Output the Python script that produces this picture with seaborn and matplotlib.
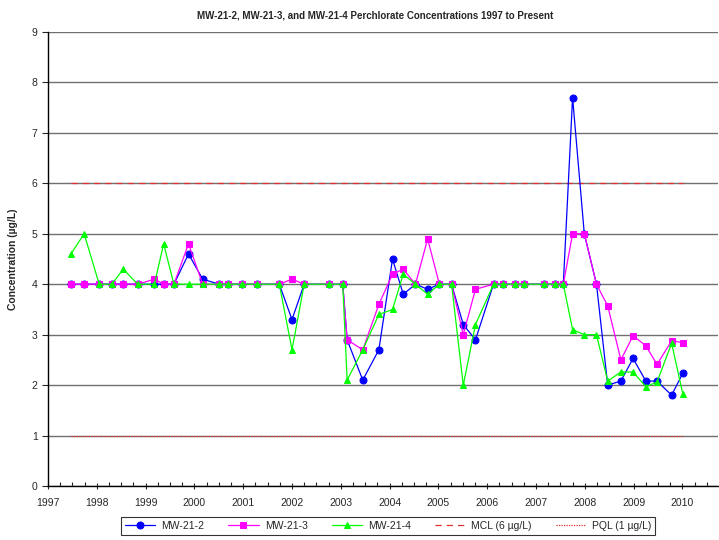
import matplotlib
matplotlib.use('Agg')
import matplotlib.pyplot as plt
import seaborn as sns
import pandas as pd
from matplotlib.ticker import MultipleLocator

# ========= data (decimal years, ug/L) =======================
dates = [1997.47, 1997.74, 1998.05, 1998.31, 1998.54, 1998.84, 1999.18, 1999.37,
         1999.58, 1999.88, 2000.17, 2000.51, 2000.69, 2000.98, 2001.28, 2001.74,
         2002.00, 2002.25, 2002.76, 2003.04, 2003.13, 2003.45, 2003.78, 2004.06,
         2004.28, 2004.53, 2004.78, 2005.02, 2005.27, 2005.51, 2005.76, 2006.13,
         2006.33, 2006.56, 2006.76, 2007.16, 2007.38, 2007.56, 2007.75, 2007.99,
         2008.24, 2008.47, 2008.74, 2008.99, 2009.25, 2009.48, 2009.78, 2010.01]

mw_21_2 = [4, 4, 4, 4, 4, 4, 4, 4,
           4, 4.6, 4.1, 4, 4, 4, 4, 4,
           3.3, 4, 4, 4, 2.9, 2.1, 2.7, 4.5,
           3.8, 4, 3.9, 4, 4, 3.2, 2.9, 4,
           4, 4, 4, 4, 4, 4, 7.7, 5.0,
           4.0, 2.0, 2.08, 2.53, 2.08, 2.08, 1.8, 2.24]

mw_21_3 = [4, 4, 4, 4, 4, 4, 4.1, 4,
           4, 4.8, 4, 4, 4, 4, 4, 4,
           4.1, 4, 4, 4, 2.9, 2.7, 3.6, 4.2,
           4.3, 4, 4.9, 4, 4, 3.0, 3.9, 4,
           4, 4, 4, 4, 4, 4, 5.0, 5.0,
           4.0, 3.57, 2.5, 2.98, 2.78, 2.41, 2.88, 2.84]

mw_21_4 = [4.6, 5.0, 4, 4, 4.3, 4, 4, 4.8,
           4, 4.0, 4, 4, 4, 4, 4, 4,
           2.7, 4, 4, 4, 2.1, 2.7, 3.4, 3.5,
           4.2, 4, 3.8, 4, 4, 2.0, 3.2, 4,
           4, 4, 4, 4, 4, 4, 3.1, 3.0,
           3.0, 2.08, 2.26, 2.26, 1.97, 2.06, 2.83, 1.82]

mcl_value = 6
pql_value = 1
year_ticks = list(range(1997, 2011))

# =========== plot ==============
sns.set_style('white')
plt.rcParams['font.family'] = ['Liberation Sans', 'DejaVu Sans']

fig = plt.figure(figsize=(7.19, 5.40), dpi=100)
ax = fig.add_axes([48/719, 54/540, 670/719, 454/540])

series = [
    ('MW-21-2', mw_21_2, '#0000ff', 'o', 5),
    ('MW-21-3', mw_21_3, '#ff00ff', 's', 4.8),
    ('MW-21-4', mw_21_4, '#00ff00', '^', 5),
]
for name, vals, color, marker, ms in series:
    df = pd.DataFrame({'year': dates, 'conc': vals})
    sns.lineplot(data=df, x='year', y='conc', ax=ax, color=color, marker=marker,
                 markersize=ms, markeredgecolor=color, linewidth=0.9, label=name)

# reference lines span the sampling period
ref = pd.DataFrame({'year': [dates[0], dates[-1]],
                    'mcl': [mcl_value, mcl_value], 'pql': [pql_value, pql_value]})
ax.plot(ref['year'], ref['mcl'], color='#e03030', linestyle=(0, (5, 4)), lw=0.9,
        label='MCL (6 µg/L)', zorder=1)
ax.plot(ref['year'], ref['pql'], color='#e03030', linestyle=(0, (1, 1)), lw=0.9,
        label='PQL (1 µg/L)', zorder=1)

ax.set_xlim(1997, 2010.73)
ax.set_ylim(0, 9)
ax.set_xticks(year_ticks)
ax.set_xticklabels([str(y) for y in year_ticks])
ax.xaxis.set_minor_locator(MultipleLocator(0.25))
ax.yaxis.set_major_locator(MultipleLocator(1))
ax.grid(axis='y', color='#707070', lw=1, zorder=0)
ax.set_axisbelow(True)
for s in ['top', 'right']:
    ax.spines[s].set_visible(False)
for s in ['left', 'bottom']:
    ax.spines[s].set_color('black')
    ax.spines[s].set_linewidth(1)
ax.tick_params(axis='x', which='major', direction='inout', length=5, width=0.8,
               labelsize=7.5, pad=6, bottom=True)
ax.tick_params(axis='x', which='minor', direction='in', length=3, width=0.8, bottom=True)
ax.tick_params(axis='y', which='major', direction='out', length=4, width=0.8,
               labelsize=7.5, left=True)
ax.set_xlabel('')
ax.set_ylabel('Concentration (µg/L)', fontsize=7.5, fontweight='bold', labelpad=10)

fig.text(0.522, 0.972, 'MW-21-2, MW-21-3, and MW-21-4 Perchlorate Concentrations 1997 to Present',
         ha='center', va='center', fontsize=7, fontweight='bold')

handles, labels = ax.get_legend_handles_labels()
if ax.legend_:
    ax.legend_.remove()
leg = fig.legend(handles, labels, loc='center', bbox_to_anchor=(0.54, 0.026), ncol=5,
                 fontsize=7.5, frameon=True, fancybox=False, edgecolor='black',
                 handlelength=2.9, columnspacing=2.3, borderpad=0.35, handletextpad=0.6)
leg.get_frame().set_linewidth(0.8)

plt.savefig('out.png', dpi=100)
plt.close()
